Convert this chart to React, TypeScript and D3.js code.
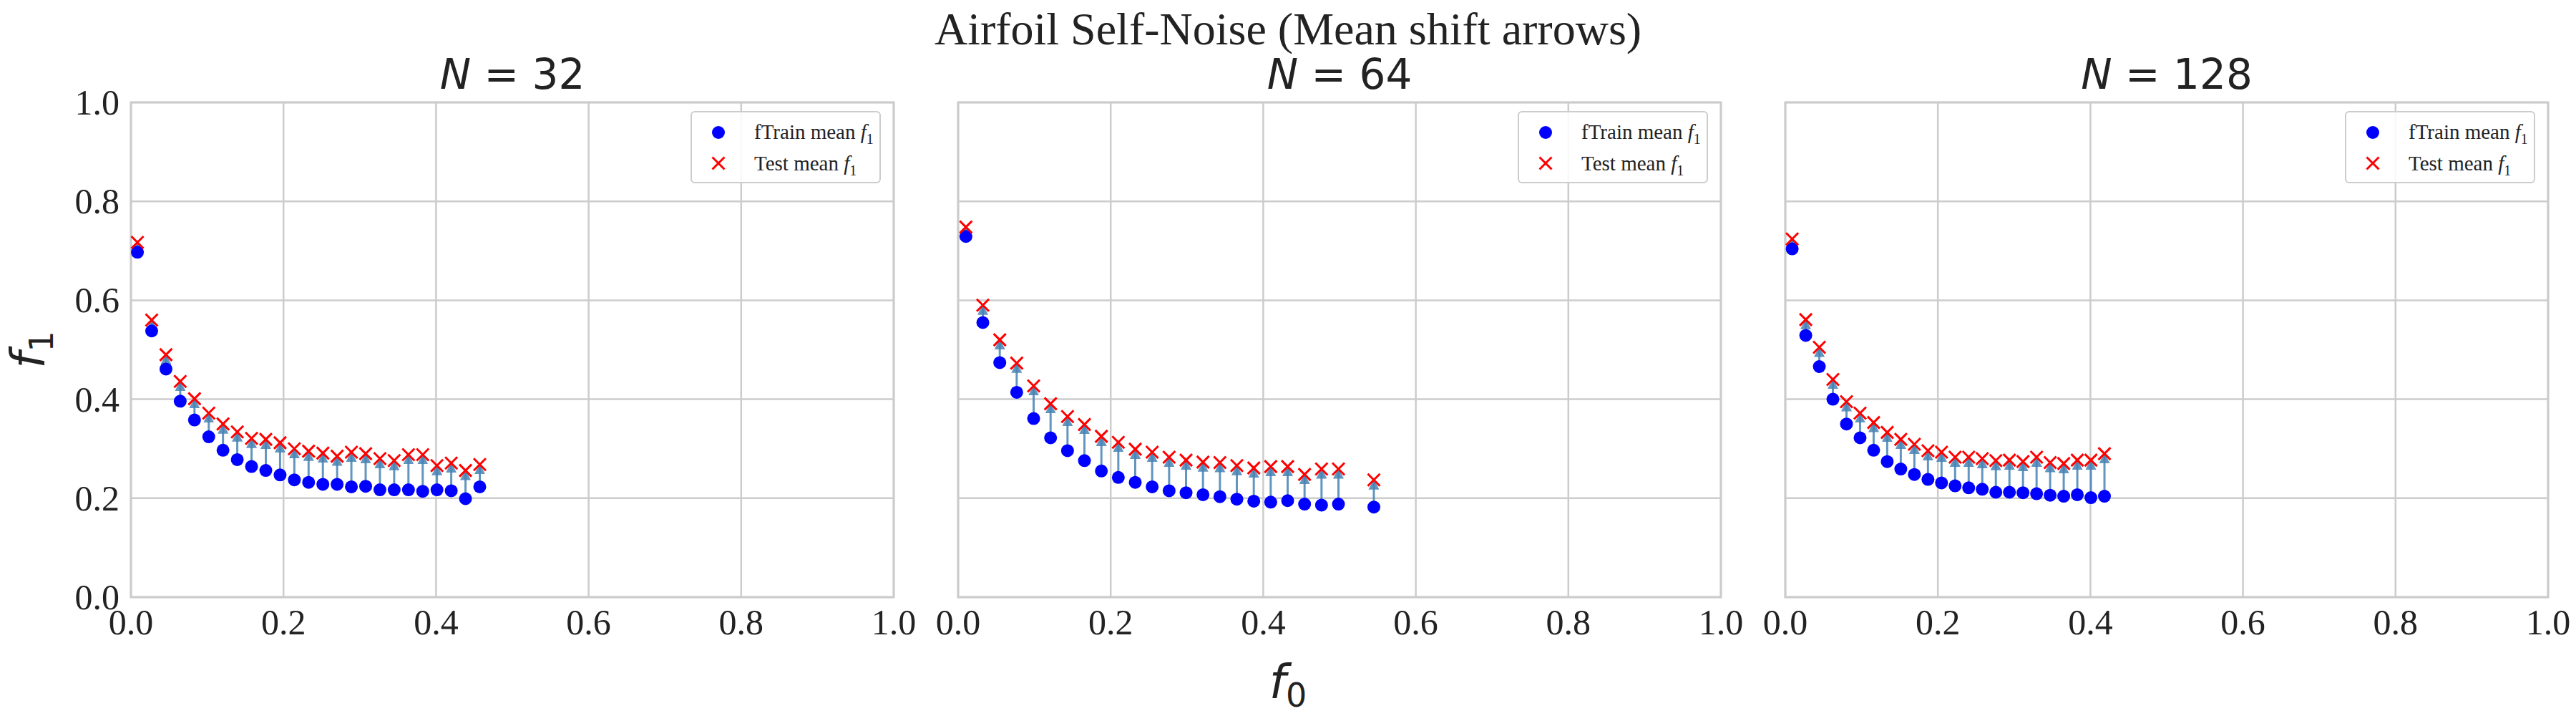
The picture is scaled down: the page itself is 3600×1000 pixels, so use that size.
import React from "react";
import * as d3 from "d3";

const titles = ["32", "64", "128"];
const x32 = d3.range(25).map(i => 0.0085 + i * 0.0187);
const train32 = [0.697,0.538,0.461,0.396,0.358,0.324,0.297,0.278,0.264,0.256,0.247,0.237,0.232,0.228,0.228,0.223,0.224,0.217,0.217,0.217,0.214,0.217,0.215,0.199,0.223];
const test32 = [0.717,0.560,0.490,0.436,0.401,0.372,0.350,0.334,0.321,0.319,0.312,0.300,0.295,0.291,0.285,0.293,0.290,0.280,0.276,0.288,0.288,0.266,0.271,0.256,0.268];
const x64 = [...d3.range(23).map(i => 0.0102 + i * 0.0222), 0.545];
const train64 = [0.729,0.555,0.474,0.414,0.361,0.322,0.296,0.276,0.255,0.242,0.232,0.223,0.215,0.211,0.207,0.203,0.198,0.194,0.192,0.195,0.188,0.186,0.188,0.182];
const test64 = [0.748,0.590,0.520,0.473,0.427,0.391,0.365,0.349,0.325,0.313,0.299,0.293,0.283,0.277,0.273,0.272,0.266,0.261,0.264,0.264,0.248,0.259,0.259,0.237];
const x128 = d3.range(24).map(i => 0.009 + i * 0.0178);
const train128 = [0.704,0.529,0.466,0.400,0.350,0.322,0.297,0.274,0.259,0.248,0.238,0.231,0.225,0.221,0.218,0.212,0.212,0.211,0.209,0.206,0.204,0.207,0.201,0.204];
const test128 = [0.724,0.561,0.505,0.440,0.395,0.372,0.353,0.333,0.319,0.309,0.296,0.293,0.283,0.283,0.280,0.276,0.277,0.274,0.283,0.272,0.270,0.277,0.277,0.290];
const ticks = [0, 0.2, 0.4, 0.6, 0.8, 1.0];

const panels = [
  { n: titles[0], xs: x32, tr: train32, te: test32 },
  { n: titles[1], xs: x64, tr: train64, te: test64 },
  { n: titles[2], xs: x128, tr: train128, te: test128 },
];

const LEFTS = [183, 1339, 2495];
const W = 1066, TOP = 143, BOT = 834;
const serif = "'Liberation Serif', 'Times New Roman', serif";
const sans = "'DejaVu Sans', sans-serif";

export default function App() {
  const y = d3.scaleLinear().domain([0, 1]).range([BOT, TOP]);
  return (
    <svg width={3600} height={1000} style={{ display: "block", position: "absolute", left: 0, top: 0, background: "#fff" }}>
      <defs>
        <marker id="ah" viewBox="0 0 10 10" refX="9" refY="5" markerWidth="5" markerHeight="5" orient="auto">
          <path d="M0,0 L10,5 L0,10 z" fill="#4682b4" opacity="0.85" />
        </marker>
      </defs>
      <rect width={3600} height={1000} fill="#fff" />
      <text x={1800} y={62} textAnchor="middle" fontFamily={serif} fontSize={64} fill="#222">Airfoil Self-Noise (Mean shift arrows)</text>
      {panels.map((p, pi) => {
        const L = LEFTS[pi];
        const x = d3.scaleLinear().domain([0, 1]).range([L, L + W]);
        return (
          <g key={pi}>
            {ticks.map(t => (
              <g key={t}>
                <line x1={x(t)} x2={x(t)} y1={TOP} y2={BOT} stroke="#cccccc" strokeWidth={2.5} />
                <line x1={L} x2={L + W} y1={y(t)} y2={y(t)} stroke="#cccccc" strokeWidth={2.5} />
                <text x={x(t)} y={BOT + 52} textAnchor="middle" fontFamily={serif} fontSize={50} fill="#222">{t.toFixed(1)}</text>
                {pi === 0 && <text x={L - 16} y={y(t) + 17} textAnchor="end" fontFamily={serif} fontSize={50} fill="#222">{t.toFixed(1)}</text>}
              </g>
            ))}
            <rect x={L} y={TOP} width={W} height={BOT - TOP} fill="none" stroke="#cccccc" strokeWidth={3} />
            <text x={L + W / 2} y={124} textAnchor="middle" fontFamily={sans} fontSize={58} fill="#222">
              <tspan fontStyle="italic">N</tspan> = {p.n}
            </text>
            {p.xs.map((xv, i) => (
              <line key={"a" + i} x1={x(xv)} y1={y(p.tr[i])} x2={x(xv)} y2={y(p.te[i])} stroke="#4682b4" strokeOpacity={0.85} strokeWidth={3} markerEnd="url(#ah)" />
            ))}
            {p.xs.map((xv, i) => (
              <circle key={"c" + i} cx={x(xv)} cy={y(p.tr[i])} r={9} fill="#0000ff" />
            ))}
            {p.xs.map((xv, i) => {
              const cx = x(xv), cy = y(p.te[i]), s = 8.5;
              return <path key={"x" + i} d={`M${cx - s},${cy - s}L${cx + s},${cy + s}M${cx - s},${cy + s}L${cx + s},${cy - s}`} stroke="#ff0000" strokeWidth={3} />;
            })}
            <g transform={`translate(${L + W - 283},156)`}>
              <rect x={0} y={0} width={264} height={99} rx={5} fill="#fff" fillOpacity={0.85} stroke="#cccccc" strokeWidth={2} />
              <circle cx={38} cy={29} r={9} fill="#0000ff" />
              <path d="M29.5,63.5L46.5,80.5M29.5,80.5L46.5,63.5" stroke="#ff0000" strokeWidth={3} />
              <text x={88} y={38} fontFamily={serif} fontSize={29} fill="#222">fTrain mean <tspan fontStyle="italic">f</tspan><tspan fontSize={20} dy={7}>1</tspan></text>
              <text x={88} y={82} fontFamily={serif} fontSize={29} fill="#222">Test mean <tspan fontStyle="italic">f</tspan><tspan fontSize={20} dy={7}>1</tspan></text>
            </g>
          </g>
        );
      })}
      <text x={1800} y={975} textAnchor="middle" fontFamily={sans} fontSize={66} fill="#222"><tspan fontStyle="italic">f</tspan><tspan fontSize={46} dy={12}>0</tspan></text>
      <text transform={`translate(62,${(TOP + BOT) / 2}) rotate(-90)`} textAnchor="middle" fontFamily={sans} fontSize={66} fill="#222"><tspan fontStyle="italic">f</tspan><tspan fontSize={46} dy={12}>1</tspan></text>
    </svg>
  );
}
